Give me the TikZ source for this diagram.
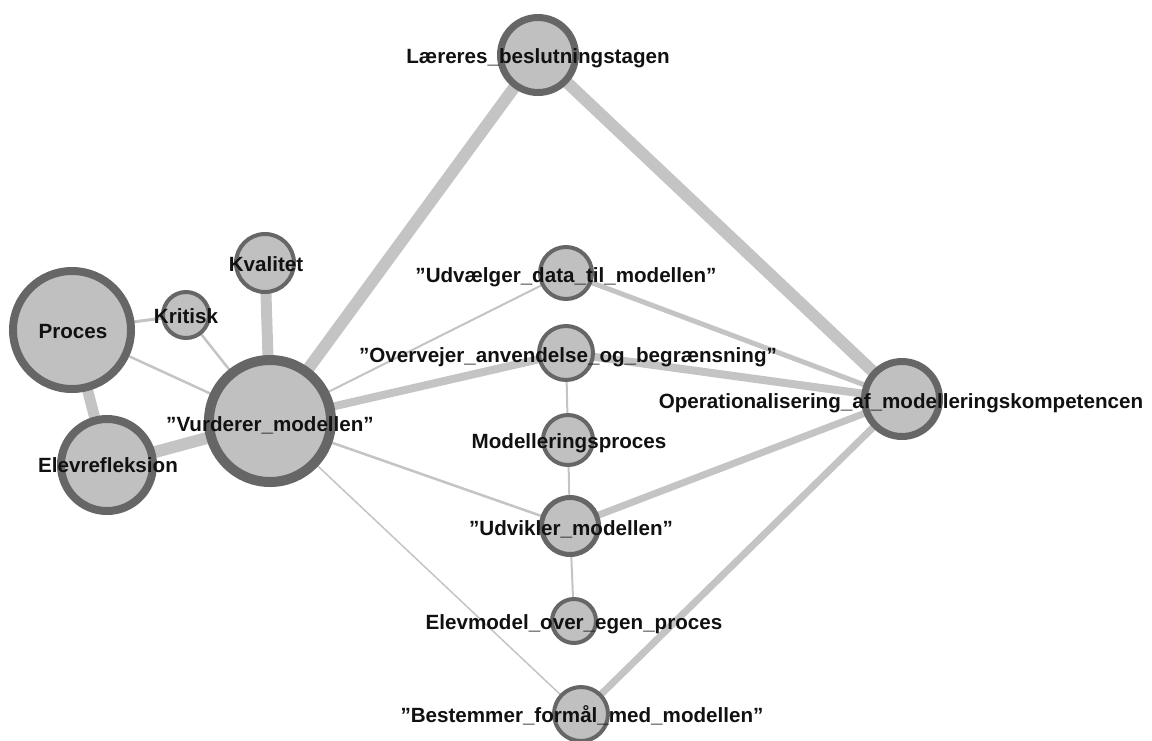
\documentclass[tikz,border=0pt]{standalone}
\usepackage{fontspec}
\setmainfont{Liberation Sans}
\definecolor{nodefill}{HTML}{C0C0C0}
\definecolor{noderim}{HTML}{666666}
\definecolor{edgegrey}{HTML}{C4C4C4}
\definecolor{labelink}{HTML}{111111}
\pgfdeclarelayer{back}
\pgfsetlayers{back,main}
\begin{document}
\begin{tikzpicture}[x=1pt,y=-1pt,
  vertex/.style={circle,fill=nodefill,draw=noderim,inner sep=0pt},
  tag/.style={font=\bfseries\fontsize{20.6}{22}\selectfont,text=labelink,
              inner sep=0pt,text height=15pt,text depth=4pt},
  link/.style={draw=edgegrey,line cap=butt}]
\useasboundingbox (0,0) rectangle (1152,740);
\clip (0,0) rectangle (1152,740);

% circles (path diameter = outer diameter minus rim width)
\node[vertex,line width=8pt,minimum size=118pt] (proces)   at (72,330)  {};
\node[vertex,line width=4pt,minimum size=46pt]  (kritisk)  at (186,315) {};
\node[vertex,line width=4pt,minimum size=58pt]  (kvalitet) at (265,263) {};
\node[vertex,line width=10pt,minimum size=122pt](vurderer) at (270,421) {};
\node[vertex,line width=8pt,minimum size=92pt]  (elevref)  at (107,465) {};
\node[vertex,line width=7pt,minimum size=75pt]  (laerere)  at (538,55)  {};
\node[vertex,line width=4pt,minimum size=52pt]  (udvaelg)  at (566,273) {};
\node[vertex,line width=4pt,minimum size=54pt]  (overvej)  at (566,353) {};
\node[vertex,line width=4pt,minimum size=50pt]  (modproc)  at (568,440) {};
\node[vertex,line width=5pt,minimum size=57pt]  (udvikl)   at (570,526) {};
\node[vertex,line width=4pt,minimum size=44pt]  (elevmod)  at (574,621) {};
\node[vertex,line width=4pt,minimum size=54pt]  (bestem)   at (581,714) {};
\node[vertex,line width=7pt,minimum size=75pt]  (operat)   at (902,399) {};

% connectors, centre to centre, behind the circles
\begin{pgfonlayer}{back}
  \draw[link,line width=12pt]  (vurderer.center) -- (laerere.center);
  \draw[link,line width=12pt]  (laerere.center)  -- (operat.center);
  \draw[link,line width=11pt]  (vurderer.center) -- (kvalitet.center);
  \draw[link,line width=11pt]  (proces.center)   -- (elevref.center);
  \draw[link,line width=12pt]  (elevref.center)  -- (vurderer.center);
  \draw[link,line width=8pt]   (vurderer.center) -- (overvej.center);
  \draw[link,line width=8pt]   (overvej.center)  -- (operat.center);
  \draw[link,line width=7pt]   (udvikl.center)   -- (operat.center);
  \draw[link,line width=7pt]   (bestem.center)   -- (operat.center);
  \draw[link,line width=5pt]   (udvaelg.center)  -- (operat.center);
  \draw[link,line width=3pt]   (proces.center)   -- (kritisk.center);
  \draw[link,line width=2.5pt] (kritisk.center)  -- (vurderer.center);
  \draw[link,line width=2.5pt] (proces.center)   -- (vurderer.center);
  \draw[link,line width=2pt]   (vurderer.center) -- (udvaelg.center);
  \draw[link,line width=2.5pt] (vurderer.center) -- (udvikl.center);
  \draw[link,line width=1.5pt] (vurderer.center) -- (bestem.center);
  \draw[link,line width=2pt]   (overvej.center)  -- (modproc.center);
  \draw[link,line width=2pt]   (modproc.center)  -- (udvikl.center);
  \draw[link,line width=2pt]   (udvikl.center)   -- (elevmod.center);
\end{pgfonlayer}

% labels on top
\node[tag] (t-proces)   at (73,333)  {Proces};
\node[tag] (t-kritisk)  at (186,318) {Kritisk};
\node[tag] (t-kvalitet) at (266,266) {Kvalitet};
\node[tag] (t-vurderer) at (270,426) {”Vurderer\_modellen”};
\node[tag] (t-elevref)  at (108,467) {Elevrefleksion};
\node[tag] (t-laerere)  at (538,58)  {Læreres\_beslutningstagen};
\node[tag] (t-udvaelg)  at (566,277) {”Udvælger\_data\_til\_modellen”};
\node[tag] (t-overvej)  at (568,357) {”Overvejer\_anvendelse\_og\_begrænsning”};
\node[tag] (t-modproc)  at (569,443) {Modelleringsproces};
\node[tag] (t-udvikl)   at (571,530) {”Udvikler\_modellen”};
\node[tag] (t-elevmod)  at (574,624) {Elevmodel\_over\_egen\_proces};
\node[tag] (t-bestem)   at (582,717) {”Bestemmer\_formål\_med\_modellen”};
\node[tag] (t-operat)   at (901,403) {Operationalisering\_af\_modelleringskompetencen};
\end{tikzpicture}
\end{document}
